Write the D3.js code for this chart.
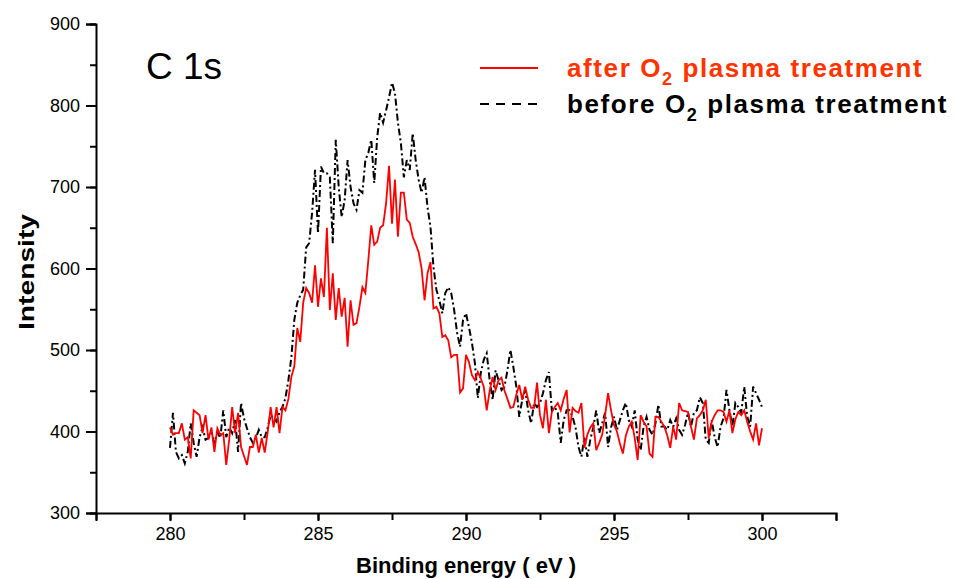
<!DOCTYPE html>
<html>
<head>
<meta charset="utf-8">
<script src="https://cdn.jsdelivr.net/npm/d3@7"></script>
<style>
  body { margin: 0; background: #fff; }
  svg { font-family: Arial, "Liberation Sans", sans-serif; }
</style>
</head>
<body>
<script>
// energy grid (eV), 0.1 eV step from 280 to 300
const energyStart = 280;
const energyStep = 0.1;

// intensity after O2 plasma treatment (red)
const afterValues = [
  405,396,398,398,410,390,393,367,426,423,
  420,398,420,390,405,375,404,396,398,359,
  390,430,398,423,381,370,359,381,381,396,
  374,392,374,399,430,405,430,398,430,426,
  440,467,480,527,510,558,576,570,558,604,
  553,588,565,650,549,594,537,576,541,564,
  504,561,531,533,553,577,570,610,653,629,
  633,650,653,680,726,655,709,639,693,693,
  660,656,639,630,620,600,561,594,608,551,
  553,545,516,518,512,491,494,494,448,453,
  494,485,469,463,473,465,455,426,450,467,
  451,463,466,450,440,429,430,445,457,439,
  455,439,429,429,460,420,404,439,398,424,
  430,435,426,440,451,399,429,425,423,435,
  380,396,405,410,377,386,396,420,447,426,
  408,400,385,373,395,406,412,392,365,420,
  412,406,373,369,418,418,412,406,395,380,
  406,390,435,426,425,424,406,390,416,420,
  426,439,392,412,420,426,426,424,412,426,
  398,415,424,420,426,412,400,390,410,383,
  404
];

// intensity before O2 plasma treatment (black)
const beforeValues = [
  380,423,375,367,371,361,375,410,386,369,
  393,405,390,392,398,386,399,392,426,393,
  405,398,414,375,435,416,404,393,386,392,
  402,393,393,405,420,416,412,424,430,441,
  463,491,537,558,567,574,626,631,668,721,
  643,725,717,717,712,631,758,700,663,684,
  733,700,680,672,696,693,733,742,758,705,
  761,791,779,794,810,828,815,779,754,712,
  733,721,766,733,709,693,712,675,651,602,
  574,561,545,570,577,570,549,521,504,537,
  545,528,509,484,441,472,488,496,463,439,
  475,463,451,455,475,500,479,455,418,439,
  451,426,410,435,430,435,447,463,473,426,
  430,423,386,414,426,426,418,405,381,369,
  393,369,390,405,426,398,410,423,381,405,
  418,402,414,426,435,414,406,426,390,377,
  406,418,402,396,410,433,406,406,402,414,
  406,416,402,396,408,423,406,423,426,442,
  435,390,386,414,393,381,406,416,451,426,
  406,435,430,423,455,418,406,455,447,439,
  430
];

const xTicks = [280, 285, 290, 295, 300];
const yTicks = [300, 400, 500, 600, 700, 800, 900];

const width = 957, height = 579;
const margin = { left: 96, right: 121, top: 24, bottom: 66 };

const svg = d3.select('body').append('svg')
  .attr('width', width)
  .attr('height', height);

const x = d3.scaleLinear()
  .domain([277.5, 302.5])
  .range([margin.left, width - margin.right]);

const y = d3.scaleLinear()
  .domain([300, 900])
  .range([height - margin.bottom, margin.top]);

const energy = i => energyStart + i * energyStep;

// lines
const line = d3.line()
  .x((d, i) => x(energy(i)))
  .y(d => y(d));

svg.append('path')
  .datum(beforeValues)
  .attr('d', line)
  .attr('fill', 'none')
  .attr('stroke', '#000')
  .attr('stroke-width', 2)
  .attr('stroke-dasharray', '7,3,2,3');

svg.append('path')
  .datum(afterValues)
  .attr('d', line)
  .attr('fill', 'none')
  .attr('stroke', '#ff0000')
  .attr('stroke-width', 1.8);

// x axis (major + minor ticks)
const xAxis = svg.append('g')
  .attr('transform', `translate(0,${height - margin.bottom})`);
xAxis.call(d3.axisBottom(x).tickValues(d3.range(277.5, 302.6, 2.5)).tickSize(7).tickFormat(''));
xAxis.call(g => g.select('.domain').remove());
xAxis.append('g')
  .call(d3.axisBottom(x).tickValues(xTicks).tickSize(8).tickPadding(6))
  .call(g => g.selectAll('text')
    .attr('fill', '#000')
    .style('font-size', '18px')
    .style('font-family', '"Liberation Sans Narrow", Arial, sans-serif'));
xAxis.selectAll('path, line').attr('stroke', '#000').attr('stroke-width', 2);

// y axis
const yAxis = svg.append('g')
  .attr('transform', `translate(${margin.left},0)`);
yAxis.call(d3.axisLeft(y).tickValues(d3.range(300, 901, 50)).tickSize(6).tickFormat(''));
yAxis.call(g => g.select('.domain').remove());
yAxis.append('g')
  .call(d3.axisLeft(y).tickValues(yTicks).tickSize(10).tickPadding(6))
  .call(g => g.selectAll('text')
    .attr('fill', '#000')
    .style('font-size', '18px'));
yAxis.selectAll('path, line').attr('stroke', '#000').attr('stroke-width', 2);

// axis titles
svg.append('text')
  .attr('x', x(290))
  .attr('y', 573)
  .attr('text-anchor', 'middle')
  .attr('textLength', 220)
  .attr('lengthAdjust', 'spacingAndGlyphs')
  .style('font-weight', 'bold')
  .style('font-size', '22px')
  .text('Binding energy ( eV )');

svg.append('text')
  .attr('transform', 'translate(34,272) rotate(-90)')
  .attr('text-anchor', 'middle')
  .attr('textLength', 116)
  .attr('lengthAdjust', 'spacingAndGlyphs')
  .style('font-weight', 'bold')
  .style('font-size', '22px')
  .text('Intensity');

// panel label
svg.append('text')
  .attr('x', 146)
  .attr('y', 79)
  .style('font-size', '37px')
  .text('C 1s');

// legend
const legend = svg.append('g');
const items = [
  { name: 'after', color: '#ff0000', text: '#ff3300', dash: null, y: 68 },
  { name: 'before', color: '#000', text: '#000', dash: '9,7', y: 104 }
];
items.forEach(it => {
  legend.append('line')
    .attr('x1', 480).attr('x2', 538)
    .attr('y1', it.y).attr('y2', it.y)
    .attr('stroke', it.color)
    .attr('stroke-width', 2)
    .attr('stroke-dasharray', it.dash);
  const t = legend.append('text')
    .attr('x', 567)
    .attr('y', it.y + 9)
    .attr('fill', it.text)
    .style('font-weight', 'bold')
    .style('font-size', '26px')
    .style('letter-spacing', '1.6px');
  t.append('tspan').text(it.name + ' O');
  t.append('tspan').attr('dy', 8).style('font-size', '18px').text('2');
  t.append('tspan').attr('dy', -8).text(' plasma treatment');
});
</script>
</body>
</html>
